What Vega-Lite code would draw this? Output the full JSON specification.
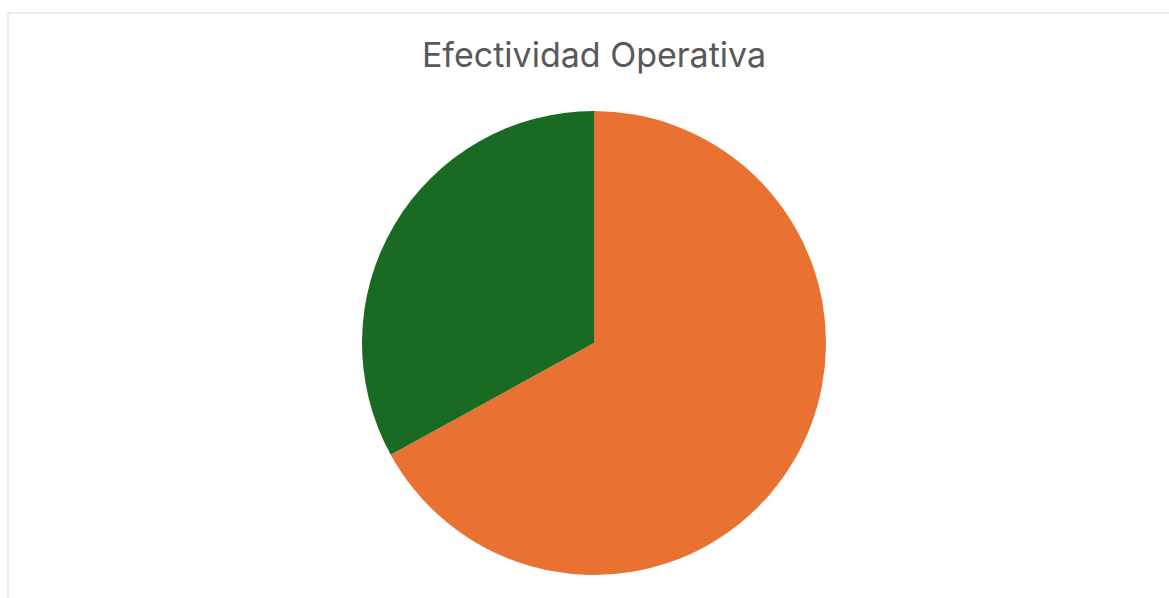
{
  "$schema": "https://vega.github.io/schema/vega-lite/v6.json",
  "autosize": "none",
  "width": 1173,
  "height": 661,
  "padding": {"left": 7.5, "top": 12.5, "right": -11.5, "bottom": -75.5},
  "background": "#ffffff",
  "view": {"stroke": "#d9d9d9", "strokeWidth": 1},
  "title": {
    "text": "Efectividad Operativa",
    "font": "Inter",
    "fontSize": 34,
    "fontWeight": "normal",
    "color": "#595959",
    "anchor": "middle",
    "frame": "group",
    "baseline": "alphabetic",
    "offset": -88
  },
  "data": {
    "values": [
      {"categoria": "Efectivo", "valor": 67, "orden": 1},
      {"categoria": "No efectivo", "valor": 33, "orden": 2}
    ]
  },
  "mark": {"type": "arc", "radius": 232, "stroke": null},
  "encoding": {
    "theta": {"field": "valor", "type": "quantitative", "stack": true},
    "order": {"field": "orden", "type": "quantitative"},
    "color": {
      "field": "categoria",
      "type": "nominal",
      "scale": {"domain": ["Efectivo", "No efectivo"], "range": ["#E97132", "#196B24"]},
      "legend": null
    }
  }
}
